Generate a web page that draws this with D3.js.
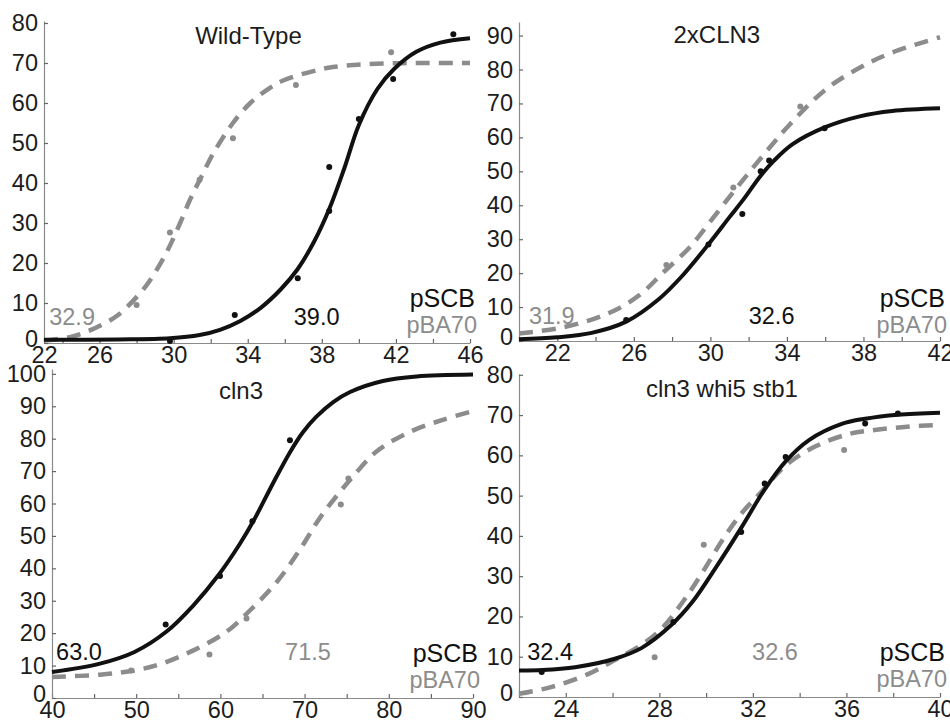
<!DOCTYPE html>
<html>
<head>
<meta charset="utf-8">
<script src="https://cdn.jsdelivr.net/npm/d3@7"></script>
<style>
  body { margin: 0; background: #fff; }
  svg { display: block; }
  text { font-family: "Liberation Sans", Arial, Helvetica, sans-serif; }
</style>
</head>
<body>
<svg width="950" height="724"></svg>
<script>
// ---- Wild-Type ----
const wtScbCurve = [[23,0.8],[27,0.9],[29.8,1.2],[31.4,2.0],[32.5,3.3],[33.6,5.5],[34.7,8.8],[35.8,13.5],[36.7,18.5],[37.6,25.5],[38.4,33.5],[39.2,43.5],[40,54.5],[41,63.5],[41.9,68.5],[43.1,72.8],[44.4,75.1],[46,76.2]];
const wtBaCurve = [[23,0.6],[24.5,1.6],[25.8,3.8],[27,7],[28.1,12],[28.7,15.5],[29.6,22.5],[30.35,30],[30.9,36],[31.5,41.6],[32.15,47.5],[33.2,55],[34.14,60],[35.04,63.3],[35.94,65.7],[37.74,68.2],[38.6,69],[40.4,69.7],[43.1,70],[46,70]];
const wtScbPts = [[29.8,0.5],[33.3,7],[36.7,16.2],[38.4,33],[38.4,44],[40,56],[41.85,66],[45.1,77.2]];
const wtBaPts = [[28,9.5],[29.8,27.6],[31.4,40.8],[33.2,51.2],[36.6,64.5],[41.74,72.7]];
const wtXTicks = [22,26,30,34,38,42,46];
const wtXMinor = [24,28,32,36,40,44];
const wtYTicks = [0,10,20,30,40,50,60,70,80];
const wtValues = ["32.9","39.0"];

// ---- 2xCLN3 ----
const dblScbCurve = [[20,0.5],[22,1.1],[23.8,2.4],[25.6,5.7],[27.3,12.3],[28.5,19],[29.9,28.5],[31,36.5],[31.7,41.5],[32.6,48.5],[33.3,53],[34.3,58],[36,63],[37.8,66.2],[39.5,67.8],[42,68.6]];
const dblBaCurve = [[20,2.2],[22,3.7],[23.8,6.3],[25.2,9.6],[26.4,14],[27.5,20],[28.9,27.5],[29.9,34.5],[31,42.5],[32,49.5],[33.1,57],[34.1,63.5],[36,74],[37.8,80.5],[39.5,85],[42,89.5]];
const dblScbPts = [[25.6,6.2],[29.9,28.4],[31.67,37.4],[32.63,50],[33.07,53.2],[35.97,62.7]];
const dblBaPts = [[27.7,22.4],[31.2,45.2],[34.7,69.1]];
const dblXTicks = [22,26,30,34,38,42];
const dblXMinor = [20,24,28,32,36,40];
const dblYTicks = [0,10,20,30,40,50,60,70,80,90];
const dblValues = ["31.9","32.6"];

// ---- cln3 ----
const clnScbCurve = [[40,8],[45.7,10.6],[49.8,14.2],[53.6,20.5],[56.8,28.6],[59.8,38],[62.3,47.5],[63.9,54.5],[66.3,66.5],[68.3,76],[69.8,82],[71.4,86.8],[73.4,91.3],[75.4,94.4],[79.3,97.8],[83.3,99.2],[90,99.8]];
const clnBaCurve = [[40,6.5],[45.7,7.2],[49.8,8.5],[53,10.6],[56.8,14.7],[60.7,20.4],[63.5,27],[66.7,35.8],[69.4,45.6],[71.8,55.5],[74.2,63.6],[75.8,68.5],[78.5,76],[82.5,82.1],[86.5,85.9],[90,88.5]];
const clnScbPts = [[53.5,22.7],[59.95,37.6],[63.8,54.5],[68.26,79.5]];
const clnBaPts = [[49.4,8.5],[58.7,13.4],[63.1,24.5],[74.3,59.7],[75.2,67.7]];
const clnXTicks = [40,50,60,70,80,90];
const clnXMinor = [45,55,65,75,85];
const clnYTicks = [0,10,20,30,40,50,60,70,80,90,100];
const clnValues = ["71.5","63.0"];

// ---- cln3 whi5 stb1 ----
const triScbCurve = [[22,6.6],[23,6.7],[24.4,7.4],[26.1,9.5],[27.25,12.2],[28.5,17.8],[29.4,23.5],[30.4,32],[31.5,42],[32.5,51.5],[33.4,58.5],[34.4,63.8],[35.8,67.8],[36.8,69.1],[38.2,70.1],[40,70.6]];
const triBaCurve = [[22,0.8],[23.4,2.5],[25,5.8],[26.1,9.2],[27.25,13],[28.1,17],[29,23.6],[29.85,31],[30.7,39],[31.5,45.5],[32.3,50.5],[33.4,57.5],[34.7,62.3],[36.1,65.3],[37.2,66.3],[38.6,67.1],[40,67.6]];
const triScbPts = [[22.97,6.2],[28.6,18.6],[31.5,41],[32.5,53],[33.4,59.6],[36.8,67.9],[38.2,70.4]];
const triBaPts = [[27.8,9.9],[29.9,37.8],[35.9,61.3]];
const triXTicks = [24,28,32,36,40];
const triXMinor = [22,26,30,34,38];
const triYTicks = [0,10,20,30,40,50,60,70,80];
const triValues = ["32.6","32.4"];

const BLACK = "#111";
const GRAY = "#8c8c8c";

// layout: plot rectangles and label placement per panel
const panels = [
  { title: "Wild-Type", scb: wtScbCurve, ba: wtBaCurve, scbPts: wtScbPts, baPts: wtBaPts,
    xTicks: wtXTicks, xMinor: wtXMinor, yTicks: wtYTicks, values: wtValues,
    xDomain: [23, 46], yDomain: [0, 80.5], left: 44, right: 470, bottom: 343, top: 21,
    titleX: 0.48, titleY: 44, baX: 0.066, scbX: 0.64, valDy: -18, legDy: 0 },
  { title: "2xCLN3", scb: dblScbCurve, ba: dblBaCurve, scbPts: dblScbPts, baPts: dblBaPts,
    xTicks: dblXTicks, xMinor: dblXMinor, yTicks: dblYTicks, values: dblValues,
    xDomain: [20, 42], yDomain: [0, 94], left: 519, right: 940, bottom: 341, top: 22,
    titleX: 0.47, titleY: 43, baX: 0.078, scbX: 0.60, valDy: -17, legDy: 2 },
  { title: "cln3", scb: clnScbCurve, ba: clnBaCurve, scbPts: clnScbPts, baPts: clnBaPts,
    xTicks: clnXTicks, xMinor: clnXMinor, yTicks: clnYTicks, values: clnValues,
    xDomain: [40, 90], yDomain: [0, 101.5], left: 52, right: 473, bottom: 698, top: 369,
    titleX: 0.449, titleY: 399, baX: 0.608, scbX: 0.064, valDy: -38, legDy: 0 },
  { title: "cln3 whi5 stb1", scb: triScbCurve, ba: triBaCurve, scbPts: triScbPts, baPts: triBaPts,
    xTicks: triXTicks, xMinor: triXMinor, yTicks: triYTicks, values: triValues,
    xDomain: [22, 40], yDomain: [0, 80.2], left: 519, right: 940, bottom: 697, top: 374,
    titleX: 0.482, titleY: 397, baX: 0.608, scbX: 0.074, valDy: -37, legDy: 0 }
];

const svg = d3.select("svg");

function drawPanel(p) {
  const x = d3.scaleLinear().domain(p.xDomain).range([p.left, p.right]);
  const y = d3.scaleLinear().domain(p.yDomain).range([p.bottom, p.top]);
  const g = svg.append("g");
  const w = p.right - p.left;

  // axes (ticks point inward, like the original)
  g.append("g")
      .attr("transform", `translate(0,${p.bottom})`)
      .call(d3.axisBottom(x.copy().clamp(true)).tickValues(p.xTicks)
        .tickSizeInner(-4).tickSizeOuter(0).tickPadding(3));
  g.append("g")
      .attr("transform", `translate(0,${p.bottom})`)
      .call(d3.axisBottom(x).tickValues(p.xMinor).tickFormat("")
        .tickSizeInner(-4).tickSizeOuter(0))
      .select(".domain").remove();
  const yAxis = g.append("g")
      .attr("transform", `translate(${p.left},0)`)
      .call(d3.axisLeft(y).tickValues(p.yTicks)
        .tickSizeInner(-4).tickSizeOuter(0).tickPadding(6));
  // the zero label sits a little higher than its tick in the original
  yAxis.selectAll(".tick text").filter(d => d === 0).attr("y", -4);

  g.selectAll(".domain").attr("stroke", "#8a8a8a").attr("stroke-width", 1.2);
  g.selectAll(".tick line").attr("stroke", "#666").attr("stroke-width", 1.2);
  g.selectAll(".tick text").attr("font-size", "23.5px").attr("fill", "#1c1c1c")
      .attr("font-family", "'Liberation Sans', Arial, sans-serif");

  const line = d3.line()
      .x(d => x(d[0]))
      .y(d => y(d[1]))
      .curve(d3.curveCatmullRom.alpha(0.5));

  // pBA70 fit (dashed gray)
  g.append("path")
      .datum(p.ba)
      .attr("fill", "none")
      .attr("stroke", GRAY)
      .attr("stroke-width", 4.5)
      .attr("stroke-dasharray", "14,9")
      .attr("d", line);

  g.selectAll(".ba-pt")
    .data(p.baPts)
    .join("circle")
      .attr("cx", d => x(d[0]))
      .attr("cy", d => y(d[1]))
      .attr("r", 3)
      .attr("fill", GRAY);

  // pSCB fit (solid black)
  g.append("path")
      .datum(p.scb)
      .attr("fill", "none")
      .attr("stroke", BLACK)
      .attr("stroke-width", 4)
      .attr("d", line);

  g.selectAll(".scb-pt")
    .data(p.scbPts)
    .join("circle")
      .attr("cx", d => x(d[0]))
      .attr("cy", d => y(d[1]))
      .attr("r", 3)
      .attr("fill", BLACK);

  // title
  g.append("text")
      .attr("x", p.left + w * p.titleX)
      .attr("y", p.titleY)
      .attr("text-anchor", "middle")
      .attr("font-size", "24px")
      .attr("fill", "#1c1c1c")
      .text(p.title);

  // half-max values
  g.append("text")
      .attr("x", p.left + w * p.baX)
      .attr("y", p.bottom + p.valDy)
      .attr("text-anchor", "middle")
      .attr("font-size", "23.5px")
      .attr("fill", GRAY)
      .text(p.values[0]);
  g.append("text")
      .attr("x", p.left + w * p.scbX)
      .attr("y", p.bottom + p.valDy)
      .attr("text-anchor", "middle")
      .attr("font-size", "23.5px")
      .attr("fill", BLACK)
      .text(p.values[1]);

  // legend
  g.append("text")
      .attr("x", p.right + 5)
      .attr("y", p.bottom - 36 + p.legDy)
      .attr("text-anchor", "end")
      .attr("font-size", "25px")
      .attr("fill", BLACK)
      .text("pSCB");
  g.append("text")
      .attr("x", p.right + 7)
      .attr("y", p.bottom - 10 + p.legDy)
      .attr("text-anchor", "end")
      .attr("font-size", "23.5px")
      .attr("fill", GRAY)
      .text("pBA70");
}

panels.forEach(drawPanel);
</script>
</body>
</html>
